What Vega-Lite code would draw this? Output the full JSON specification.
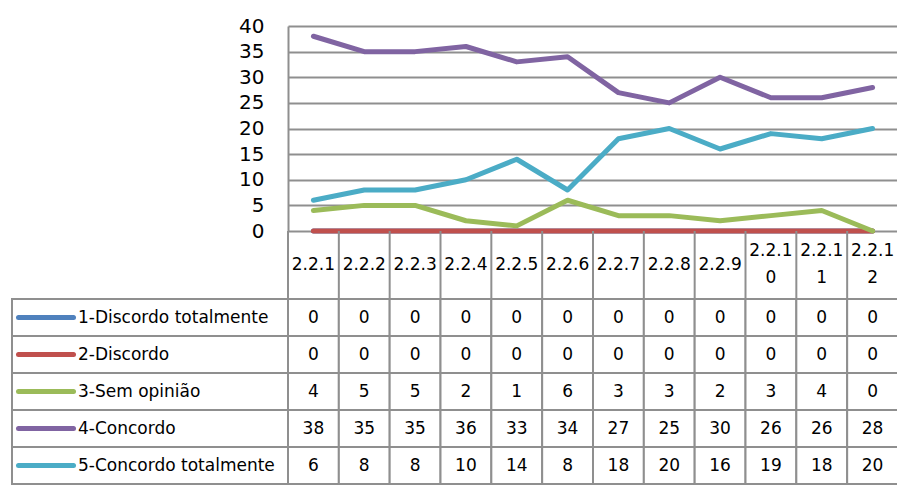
{
  "$schema": "https://vega.github.io/schema/vega-lite/v6.json",
  "padding": {"left": 8, "top": 16, "right": 0, "bottom": 0},
  "background": "white",
  "config": {"view": {"stroke": null}, "font": "DejaVu Sans"},
  "bounds": "flush",
  "spacing": 0,
  "columns": 2,
  "datasets": {
    "d": [
      {"item": "2.2.1", "series": "1-Discordo totalmente", "value": 0},
      {"item": "2.2.2", "series": "1-Discordo totalmente", "value": 0},
      {"item": "2.2.3", "series": "1-Discordo totalmente", "value": 0},
      {"item": "2.2.4", "series": "1-Discordo totalmente", "value": 0},
      {"item": "2.2.5", "series": "1-Discordo totalmente", "value": 0},
      {"item": "2.2.6", "series": "1-Discordo totalmente", "value": 0},
      {"item": "2.2.7", "series": "1-Discordo totalmente", "value": 0},
      {"item": "2.2.8", "series": "1-Discordo totalmente", "value": 0},
      {"item": "2.2.9", "series": "1-Discordo totalmente", "value": 0},
      {"item": "2.2.10", "series": "1-Discordo totalmente", "value": 0},
      {"item": "2.2.11", "series": "1-Discordo totalmente", "value": 0},
      {"item": "2.2.12", "series": "1-Discordo totalmente", "value": 0},
      {"item": "2.2.1", "series": "2-Discordo", "value": 0},
      {"item": "2.2.2", "series": "2-Discordo", "value": 0},
      {"item": "2.2.3", "series": "2-Discordo", "value": 0},
      {"item": "2.2.4", "series": "2-Discordo", "value": 0},
      {"item": "2.2.5", "series": "2-Discordo", "value": 0},
      {"item": "2.2.6", "series": "2-Discordo", "value": 0},
      {"item": "2.2.7", "series": "2-Discordo", "value": 0},
      {"item": "2.2.8", "series": "2-Discordo", "value": 0},
      {"item": "2.2.9", "series": "2-Discordo", "value": 0},
      {"item": "2.2.10", "series": "2-Discordo", "value": 0},
      {"item": "2.2.11", "series": "2-Discordo", "value": 0},
      {"item": "2.2.12", "series": "2-Discordo", "value": 0},
      {"item": "2.2.1", "series": "3-Sem opinião", "value": 4},
      {"item": "2.2.2", "series": "3-Sem opinião", "value": 5},
      {"item": "2.2.3", "series": "3-Sem opinião", "value": 5},
      {"item": "2.2.4", "series": "3-Sem opinião", "value": 2},
      {"item": "2.2.5", "series": "3-Sem opinião", "value": 1},
      {"item": "2.2.6", "series": "3-Sem opinião", "value": 6},
      {"item": "2.2.7", "series": "3-Sem opinião", "value": 3},
      {"item": "2.2.8", "series": "3-Sem opinião", "value": 3},
      {"item": "2.2.9", "series": "3-Sem opinião", "value": 2},
      {"item": "2.2.10", "series": "3-Sem opinião", "value": 3},
      {"item": "2.2.11", "series": "3-Sem opinião", "value": 4},
      {"item": "2.2.12", "series": "3-Sem opinião", "value": 0},
      {"item": "2.2.1", "series": "4-Concordo", "value": 38},
      {"item": "2.2.2", "series": "4-Concordo", "value": 35},
      {"item": "2.2.3", "series": "4-Concordo", "value": 35},
      {"item": "2.2.4", "series": "4-Concordo", "value": 36},
      {"item": "2.2.5", "series": "4-Concordo", "value": 33},
      {"item": "2.2.6", "series": "4-Concordo", "value": 34},
      {"item": "2.2.7", "series": "4-Concordo", "value": 27},
      {"item": "2.2.8", "series": "4-Concordo", "value": 25},
      {"item": "2.2.9", "series": "4-Concordo", "value": 30},
      {"item": "2.2.10", "series": "4-Concordo", "value": 26},
      {"item": "2.2.11", "series": "4-Concordo", "value": 26},
      {"item": "2.2.12", "series": "4-Concordo", "value": 28},
      {"item": "2.2.1", "series": "5-Concordo totalmente", "value": 6},
      {"item": "2.2.2", "series": "5-Concordo totalmente", "value": 8},
      {"item": "2.2.3", "series": "5-Concordo totalmente", "value": 8},
      {"item": "2.2.4", "series": "5-Concordo totalmente", "value": 10},
      {"item": "2.2.5", "series": "5-Concordo totalmente", "value": 14},
      {"item": "2.2.6", "series": "5-Concordo totalmente", "value": 8},
      {"item": "2.2.7", "series": "5-Concordo totalmente", "value": 18},
      {"item": "2.2.8", "series": "5-Concordo totalmente", "value": 20},
      {"item": "2.2.9", "series": "5-Concordo totalmente", "value": 16},
      {"item": "2.2.10", "series": "5-Concordo totalmente", "value": 19},
      {"item": "2.2.11", "series": "5-Concordo totalmente", "value": 18},
      {"item": "2.2.12", "series": "5-Concordo totalmente", "value": 20}
    ],
    "h": [
      {"item": "2.2.1", "label": "2.2.1", "lines": 1},
      {"item": "2.2.2", "label": "2.2.2", "lines": 1},
      {"item": "2.2.3", "label": "2.2.3", "lines": 1},
      {"item": "2.2.4", "label": "2.2.4", "lines": 1},
      {"item": "2.2.5", "label": "2.2.5", "lines": 1},
      {"item": "2.2.6", "label": "2.2.6", "lines": 1},
      {"item": "2.2.7", "label": "2.2.7", "lines": 1},
      {"item": "2.2.8", "label": "2.2.8", "lines": 1},
      {"item": "2.2.9", "label": "2.2.9", "lines": 1},
      {"item": "2.2.10", "label": "2.2.1\n0", "lines": 2},
      {"item": "2.2.11", "label": "2.2.1\n1", "lines": 2},
      {"item": "2.2.12", "label": "2.2.1\n2", "lines": 2}
    ],
    "s": [
      {"series": "1-Discordo totalmente"},
      {"series": "2-Discordo"},
      {"series": "3-Sem opinião"},
      {"series": "4-Concordo"},
      {"series": "5-Concordo totalmente"}
    ]
  },
  "concat": [
    {
      "width": 276, "height": 205,
      "data": {"values": [{"a": 1}]},
      "mark": {"type": "text", "text": ""},
      "encoding": {}
    },
    {
      "width": 610, "height": 205,
      "data": {"name": "d"},
      "mark": {"type": "line", "strokeWidth": 5, "strokeCap": "round", "strokeJoin": "round"},
      "encoding": {
        "x": {"field": "item", "type": "ordinal", "scale": {"type": "point", "padding": 0.5, "domain": ["2.2.1","2.2.2","2.2.3","2.2.4","2.2.5","2.2.6","2.2.7","2.2.8","2.2.9","2.2.10","2.2.11","2.2.12"]}, "axis": null},
        "y": {"field": "value", "type": "quantitative", "scale": {"domain": [0, 40], "nice": false},
          "axis": {"values": [0,5,10,15,20,25,30,35,40], "grid": true, "gridColor": "#8f8f8f", "gridWidth": 2, "domainColor": "#8f8f8f", "domainWidth": 2, "ticks": false, "labelFontSize": 20, "labelColor": "#000000", "labelPadding": 24, "title": null}},
        "color": {"field": "series", "type": "nominal", "scale": {"domain": ["1-Discordo totalmente","2-Discordo","3-Sem opinião","4-Concordo","5-Concordo totalmente"], "range": ["#4F81BD","#C0504D","#9BBB59","#8064A2","#4BACC6"]}, "legend": null}
      }
    },
    {
      "width": 276, "height": 68,
      "data": {"values": [{"a": 1}]},
      "mark": {"type": "text", "text": ""},
      "encoding": {}
    },
    {
      "width": 610, "height": 68,
      "data": {"name": "h"},
      "encoding": {
        "x": {"field": "item", "type": "ordinal", "scale": {"type": "band", "paddingInner": 0, "paddingOuter": 0, "domain": ["2.2.1","2.2.2","2.2.3","2.2.4","2.2.5","2.2.6","2.2.7","2.2.8","2.2.9","2.2.10","2.2.11","2.2.12"]}, "axis": null}
      },
      "layer": [
        {"mark": {"type": "rule", "stroke": "#8f8f8f", "strokeWidth": 2}, "encoding": {"x": {"field": "item", "type": "ordinal", "bandPosition": 0, "scale": {"type": "band", "paddingInner": 0, "paddingOuter": 0, "domain": ["2.2.1","2.2.2","2.2.3","2.2.4","2.2.5","2.2.6","2.2.7","2.2.8","2.2.9","2.2.10","2.2.11","2.2.12"]}, "axis": null}}},
        {"transform": [{"filter": "datum.lines == 1"}],
         "mark": {"type": "text", "fontSize": 17, "baseline": "middle", "color": "#000000"}, "encoding": {"text": {"field": "label"}}},
        {"transform": [{"filter": "datum.lines == 2"}],
         "mark": {"type": "text", "fontSize": 17, "lineBreak": "\n", "lineHeight": 27, "baseline": "middle", "dy": -14, "color": "#000000"}, "encoding": {"text": {"field": "label"}}}
      ]
    },
    {
      "width": 276, "height": 185,
      "data": {"name": "s"},
      "encoding": {
        "y": {"field": "series", "type": "nominal", "scale": {"type": "band", "paddingInner": 0, "paddingOuter": 0, "domain": ["1-Discordo totalmente","2-Discordo","3-Sem opinião","4-Concordo","5-Concordo totalmente"]}, "axis": null}
      },
      "layer": [
        {"mark": {"type": "rect", "fill": "white", "stroke": "#8f8f8f", "strokeWidth": 2}},
        {"mark": {"type": "point", "shape": "stroke", "size": 3025, "strokeWidth": 5, "filled": false, "opacity": 1, "xOffset": -104, "strokeCap": "round"},
         "encoding": {"color": {"field": "series", "type": "nominal", "legend": null}}},
        {"mark": {"type": "text", "align": "left", "dx": -72, "fontSize": 17, "color": "#000000"}, "encoding": {"text": {"field": "series"}}}
      ]
    },
    {
      "width": 610, "height": 185,
      "data": {"name": "d"},
      "encoding": {
        "x": {"field": "item", "type": "ordinal", "scale": {"type": "band", "paddingInner": 0, "paddingOuter": 0, "domain": ["2.2.1","2.2.2","2.2.3","2.2.4","2.2.5","2.2.6","2.2.7","2.2.8","2.2.9","2.2.10","2.2.11","2.2.12"]}, "axis": null},
        "y": {"field": "series", "type": "nominal", "scale": {"type": "band", "paddingInner": 0, "paddingOuter": 0, "domain": ["1-Discordo totalmente","2-Discordo","3-Sem opinião","4-Concordo","5-Concordo totalmente"]}, "axis": null}
      },
      "layer": [
        {"mark": {"type": "rect", "fill": "white", "stroke": "#8f8f8f", "strokeWidth": 2}},
        {"mark": {"type": "text", "fontSize": 17, "color": "#000000"}, "encoding": {"text": {"field": "value", "type": "quantitative"}}}
      ]
    }
  ]
}
